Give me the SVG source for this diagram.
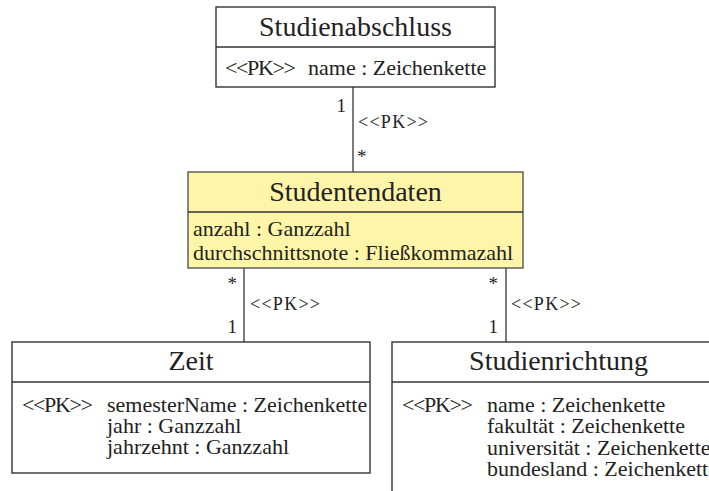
<svg xmlns="http://www.w3.org/2000/svg" width="709" height="491" viewBox="0 0 709 491">
  <style>
    text { font-family: "Liberation Serif", "Times New Roman", serif; fill: #222; }
    .title { font-size: 28px; text-anchor: middle; }
    .attr { font-size: 22px; }
    .lbl { font-size: 18px; }
    .mult { font-size: 19px; }
    .box { fill: #ffffff; stroke: #333; stroke-width: 1.4; }
    .fact { fill: #fff5a8; stroke: #555; stroke-width: 1.4; }
    .sep { stroke: #333; stroke-width: 1.4; }
    .conn { stroke: #444; stroke-width: 1.4; fill: none; }
  </style>

  <rect width="709" height="491" fill="#ffffff"/>

  <!-- associations -->
  <g id="connectors">
    <line class="conn" x1="353" y1="87" x2="353" y2="172"/>
    <text class="mult" x="346" y="112" text-anchor="end">1</text>
    <text class="lbl" x="358" y="128" textLength="70" lengthAdjust="spacing">&lt;&lt;PK&gt;&gt;</text>
    <text class="mult" x="357" y="163">*</text>

    <line class="conn" x1="244" y1="268" x2="244" y2="342"/>
    <text class="mult" x="237" y="290" text-anchor="end">*</text>
    <text class="lbl" x="250" y="310" textLength="70" lengthAdjust="spacing">&lt;&lt;PK&gt;&gt;</text>
    <text class="mult" x="237" y="333" text-anchor="end">1</text>

    <line class="conn" x1="506" y1="268" x2="506" y2="342"/>
    <text class="mult" x="498" y="290" text-anchor="end">*</text>
    <text class="lbl" x="511" y="310" textLength="70" lengthAdjust="spacing">&lt;&lt;PK&gt;&gt;</text>
    <text class="mult" x="498" y="333" text-anchor="end">1</text>
  </g>

  <g id="studienabschluss">
    <rect class="box" x="216" y="7" width="279" height="80"/>
    <line class="sep" x1="216" y1="47" x2="495" y2="47"/>
    <text class="title" x="355.5" y="36">Studienabschluss</text>
    <text class="attr" x="225" y="75" textLength="71" lengthAdjust="spacing">&lt;&lt;PK&gt;&gt;</text>
    <text class="attr" x="308" y="75">name : Zeichenkette</text>
  </g>

  <g id="studentendaten">
    <rect class="fact" x="188" y="172" width="335" height="96"/>
    <line class="sep" x1="188" y1="212" x2="523" y2="212"/>
    <text class="title" x="355.5" y="201">Studentendaten</text>
    <text class="attr" x="193" y="236">anzahl : Ganzzahl</text>
    <text class="attr" x="193" y="260">durchschnittsnote : Fließkommazahl</text>
  </g>

  <g id="zeit">
    <rect class="box" x="12" y="342" width="358" height="131"/>
    <line class="sep" x1="12" y1="382" x2="370" y2="382"/>
    <text class="title" x="191" y="370">Zeit</text>
    <text class="attr" x="22" y="412" textLength="71" lengthAdjust="spacing">&lt;&lt;PK&gt;&gt;</text>
    <text class="attr" x="107" y="412">semesterName : Zeichenkette</text>
    <text class="attr" x="107" y="433">jahr : Ganzzahl</text>
    <text class="attr" x="107" y="454">jahrzehnt : Ganzzahl</text>
  </g>

  <g id="studienrichtung">
    <rect class="box" x="392" y="342" width="340" height="170"/>
    <line class="sep" x1="392" y1="382" x2="732" y2="382"/>
    <text class="title" x="558.5" y="370">Studienrichtung</text>
    <text class="attr" x="402" y="412" textLength="71" lengthAdjust="spacing">&lt;&lt;PK&gt;&gt;</text>
    <text class="attr" x="487" y="412">name : Zeichenkette</text>
    <text class="attr" x="487" y="433">fakultät : Zeichenkette</text>
    <text class="attr" x="487" y="455">universität : Zeichenkette</text>
    <text class="attr" x="487" y="476">bundesland : Zeichenkette</text>
  </g>
</svg>
